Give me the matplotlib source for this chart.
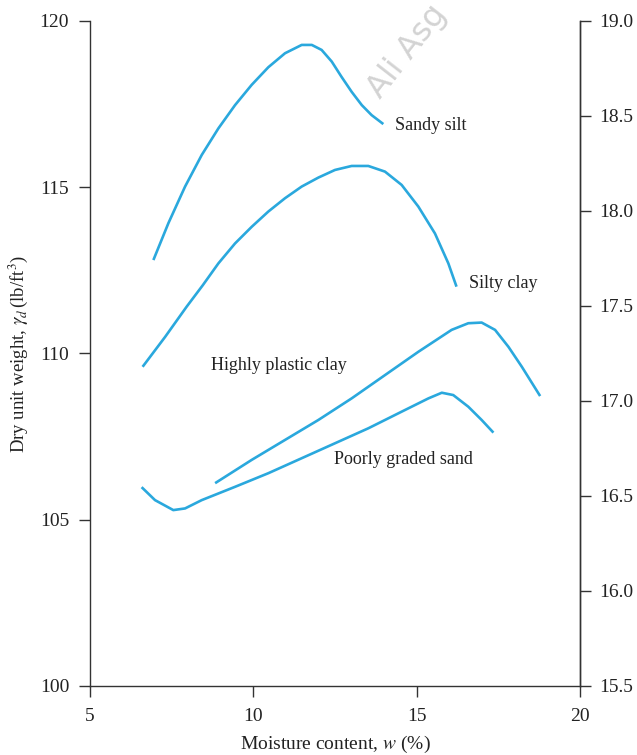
import matplotlib
matplotlib.use("Agg")
import matplotlib.pyplot as plt

plt.rcParams['font.family'] = ['Liberation Serif', 'DejaVu Serif']
plt.rcParams['mathtext.fontset'] = 'stix'

KOLOR = '#2aa8dd'

# wilgotnosc w (%), ciezar objetosciowy (lb/ft3)
sandy_silt_w = [6.94, 7.40, 7.91, 8.42, 8.93, 9.44, 9.95, 10.46, 10.97, 11.48, 11.79,
                12.09, 12.40, 12.70, 13.01, 13.32, 13.62, 13.98]
sandy_silt_g = [112.81, 113.92, 115.02, 115.97, 116.77, 117.47, 118.08, 118.61, 119.03, 119.28, 119.28,
                119.13, 118.78, 118.32, 117.87, 117.47, 117.17, 116.90]

silty_clay_w = [6.61, 7.3, 7.96, 8.45, 8.93, 9.44, 9.95, 10.46, 10.97, 11.48, 11.99, 12.50,
                13.01, 13.52, 14.03, 14.54, 15.05, 15.56, 15.97, 16.22]
silty_clay_g = [109.6, 110.5, 111.41, 112.05, 112.71, 113.31, 113.81, 114.27, 114.67, 115.02, 115.29, 115.52,
                115.64, 115.64, 115.47, 115.07, 114.42, 113.61, 112.71, 112.01]

plastic_clay_w = [8.83, 9.95, 10.97, 11.99, 13.01, 14.03, 15.05, 16.07, 16.58, 16.99,
                  17.40, 17.81, 18.22, 18.78]
plastic_clay_g = [106.10, 106.80, 107.40, 108.0, 108.65, 109.35, 110.05, 110.71, 110.91, 110.93,
                  110.71, 110.20, 109.60, 108.72]

sand_w = [6.58, 6.99, 7.55, 7.91, 8.42, 9.44, 10.46, 11.48, 12.50, 13.52, 14.54, 15.36,
          15.77, 16.12, 16.58, 16.99, 17.35]
sand_g = [105.98, 105.59, 105.29, 105.34, 105.59, 105.99, 106.40, 106.85, 107.30, 107.75, 108.25, 108.65,
          108.82, 108.75, 108.40, 108.0, 107.62]

etykiety = ['Sandy silt', 'Silty clay', 'Highly plastic clay', 'Poorly graded sand']
etykiety_w = [14.35, 16.6, 8.7, 12.46]
etykiety_g = [116.85, 112.1, 109.65, 106.8]

lewe_ticki = [100, 105, 110, 115, 120]
prawe_ticki = [15.5, 16.0, 16.5, 17.0, 17.5, 18.0, 18.5, 19.0]
x_ticki = [5, 10, 15, 20]

fig = plt.figure(figsize=(6.37, 7.55), dpi=100)
ax = fig.add_axes([0.1413, 0.0914, 0.7692, 0.8808])

for w, g in [(sandy_silt_w, sandy_silt_g), (silty_clay_w, silty_clay_g),
             (plastic_clay_w, plastic_clay_g), (sand_w, sand_g)]:
    ax.plot(w, g, color=KOLOR, lw=1.9, solid_capstyle='butt', solid_joinstyle='round')

for t, x, y in zip(etykiety, etykiety_w, etykiety_g):
    ax.text(x, y, t, fontsize=13, va='center', ha='left', color='#222222')

ax.set_xlim(5, 20)
ax.set_ylim(100, 120)
ax.set_xticks(x_ticki)
ax.set_yticks(lewe_ticki)
ax.spines['top'].set_visible(False)
for s in ['left', 'bottom', 'right']:
    ax.spines[s].set_color('#333333')
    ax.spines[s].set_linewidth(1.0)
ax.tick_params(direction='out', length=8, width=1.0, colors='#333333',
               labelsize=14, labelcolor='#222222')
ax.tick_params(axis='y', pad=7)
ax.tick_params(axis='x', pad=8)

ax2 = ax.twinx()
ax2.set_ylim(15.5, 19.0)
ax2.set_yticks(prawe_ticki)
ax2.set_yticklabels([f'{v:.1f}' for v in prawe_ticki])
for s in ['top', 'left', 'bottom']:
    ax2.spines[s].set_visible(False)
ax2.spines['right'].set_color('#333333')
ax2.spines['right'].set_linewidth(1.0)
ax2.tick_params(direction='out', length=8, width=1.0, colors='#333333',
                labelsize=14, labelcolor='#222222', pad=6)

ax.set_xlabel(r'Moisture content, $w$ (%)', fontsize=14, color='#222222', labelpad=6)
ax.set_ylabel(r'Dry unit weight, $\gamma_d\,$(lb/ft$^3$)', fontsize=13.5, color='#222222', labelpad=7)

# znak wodny
fig.text(0.568, 0.862, 'Ali Asg', rotation=52, fontsize=23, color='#c8c8c8',
         family='DejaVu Sans', ha='left', va='bottom', alpha=0.8, zorder=0)

fig.savefig('out.png', dpi=100)
